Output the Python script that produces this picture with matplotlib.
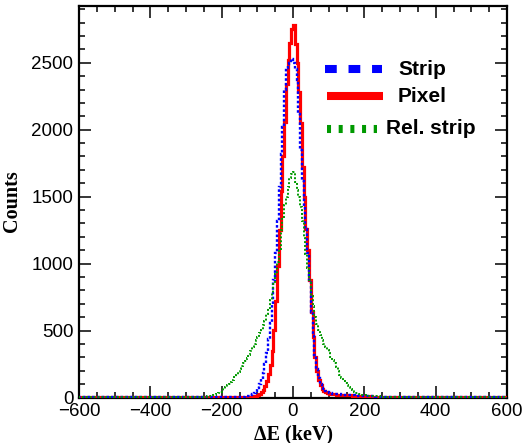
"""
Energy resolution comparison: strip vs pixel vs relative strip
"""

import matplotlib

matplotlib.use("Agg")

import matplotlib.pyplot as plt
import numpy as np
from matplotlib.ticker import MultipleLocator

# --------------------------------
#       DATA (counts per bin)
# --------------------------------
# outer tails use 25 keV bins, the core (-250..250) uses 5 keV bins
pixel_left_tail = [2, 3, 2, 3, 2, 2, 3, 3, 2, 3, 3, 2, 3, 3]
pixel_core = [
    2, 3, 2, 2, 3, 2, 3, 2, 3, 3, 2, 3, 3, 3, 2, 3, 3, 4, 3, 3,
    3, 4, 4, 5, 5, 6, 7, 8, 10, 13, 18, 26, 38, 58, 88, 125, 175, 245, 350, 505,
    720, 980, 1250, 1540, 1800, 2060, 2340, 2520, 2650, 2750,
    2785, 2640, 2500, 2280, 2050, 1720, 1500, 1260, 1100, 880,
    640, 450, 300, 200, 130, 90, 62, 47, 38, 32,
    28, 26, 24, 23, 22, 21, 19, 18, 18, 17, 16, 15, 15, 14, 13, 12, 12, 11, 10, 10,
    9, 9, 8, 8, 7, 7, 6, 6, 6, 5,
]
pixel_right_tail = [5, 4, 4, 3, 3, 3, 2, 3, 2, 2, 3, 2, 2, 2]

strip_left_tail = [3, 2, 3, 3, 2, 3, 3, 3, 2, 3, 3, 3, 2, 3]
strip_core = [
    3, 2, 3, 3, 2, 3, 3, 2, 3, 3, 3, 2, 3, 3, 3, 3, 3, 3, 4, 3,
    4, 5, 6, 8, 10, 13, 18, 25, 35, 50, 72, 100, 140, 185, 250, 330, 440, 560, 700, 880,
    1080, 1320, 1570, 1820, 2020, 2300, 2460, 2490, 2500, 2525,
    2500, 2450, 2370, 2120, 1850, 1620, 1420, 1260, 1080, 880,
    640, 460, 320, 215, 145, 100, 72, 55, 45, 38,
    33, 30, 28, 26, 25, 24, 23, 22, 21, 20, 19, 18, 17, 16, 15, 14, 13, 12, 12, 11,
    10, 10, 9, 9, 8, 8, 7, 7, 6, 6,
]
strip_right_tail = [6, 5, 5, 4, 4, 4, 3, 4, 3, 3, 3, 3, 2, 3]

rel_left_tail = [3, 3, 4, 3, 3, 4, 3, 4, 4, 4, 5, 4, 5, 5]
rel_core = [
    6, 7, 8, 10, 12, 15, 20, 25, 32, 40, 50, 62, 76, 90, 104, 118, 133, 150, 168, 190,
    212, 235, 255, 275, 295, 320, 348, 375, 400, 430, 455, 480,
    505, 540, 575, 620, 670, 727, 780, 850, 920, 1010,
    1110, 1250, 1350, 1440, 1500, 1570, 1640, 1670,
    1685, 1610, 1550, 1500, 1420, 1320, 1190, 1070, 970, 880,
    760, 680, 600, 550, 505, 465, 430, 400, 375, 352,
    330, 305, 280, 255, 225, 195, 170, 145, 125, 108,
    92, 78, 65, 54, 44, 36, 30, 25, 21, 18,
    16, 14, 13, 12, 11, 10, 9, 8, 8, 7,
]
rel_right_tail = [6, 5, 5, 5, 4, 4, 4, 4, 3, 4, 3, 3, 3, 3]

labels = ["Strip", "Pixel", "Rel. strip"]

edges = np.concatenate(
    [np.arange(-600, -250, 25), np.arange(-250, 250, 5), np.arange(250, 601, 25)]
)

pixel = np.array(pixel_left_tail + pixel_core + pixel_right_tail, dtype=float)
strip = np.array(strip_left_tail + strip_core + strip_right_tail, dtype=float)
rel = np.array(rel_left_tail + rel_core + rel_right_tail, dtype=float)

# --------------------------------
#       PLOT
# --------------------------------
fig = plt.figure(figsize=(5.22, 4.43), dpi=100)
ax = fig.add_axes([79 / 522, 1 - 397.5 / 443, 428 / 522, (397.5 - 5.7) / 443])

ax.stairs(pixel, edges, color="#ff0000", lw=2.3, zorder=3)
ax.stairs(strip, edges, color="#0000ff", lw=1.7, linestyle=(0, (1.1, 0.9)), zorder=4)
ax.stairs(rel, edges, color="#009900", lw=1.4, linestyle=(0, (1.0, 1.0)), zorder=5)

ax.set_xlim(-600, 600)
ax.set_ylim(0, 2926)

ax.xaxis.set_major_locator(MultipleLocator(200))
ax.xaxis.set_minor_locator(MultipleLocator(50))
ax.yaxis.set_major_locator(MultipleLocator(500))
ax.yaxis.set_minor_locator(MultipleLocator(100))

ax.tick_params(which="both", direction="in", top=True, right=True, width=1.1)
ax.tick_params(which="major", length=8.5, labelsize=13.5, pad=4)
ax.tick_params(which="minor", length=4.3)
for lbl in ax.get_xticklabels() + ax.get_yticklabels():
    lbl.set_fontfamily("Liberation Sans")
for side in ax.spines.values():
    side.set_linewidth(1.6)

ax.set_xlabel("ΔE (keV)", family="Liberation Serif", fontweight="bold",
              fontsize=14.5, labelpad=3)
ax.set_ylabel("Counts", family="Liberation Serif", fontweight="bold",
              fontsize=14.5)
ax.yaxis.set_label_coords((22 - 79) / 428, 0.5)

# legend drawn by hand, no frame (ROOT style)
def to_ax(px, py):
    return (px - 79) / 428, (397.5 - py) / (397.5 - 5.7)

legend_keys = [
    dict(color="#0000ff", ls=(0, (1.46, 1.46)), x0=325, x1=382, y=69.5, tx=398),
    dict(color="#ff0000", ls="-", x0=327, x1=383, y=96.5, tx=398),
    dict(color="#009900", ls=(0, (0.5, 0.95)), x0=327, x1=377, y=129, tx=386),
]
for key, text in zip(legend_keys, labels):
    xa, ya = to_ax(key["x0"], key["y"])
    xb, _ = to_ax(key["x1"], key["y"])
    ax.plot([xa, xb], [ya, ya], transform=ax.transAxes, color=key["color"],
            ls=key["ls"], lw=5.8, solid_capstyle="butt", dash_capstyle="butt",
            clip_on=False, zorder=6)
    xt, yt = to_ax(key["tx"], key["y"])
    ax.text(xt, yt, text, transform=ax.transAxes, ha="left", va="center",
            family="Liberation Sans", fontweight="bold", fontsize=15)

fig.savefig("out.png", dpi=100)
